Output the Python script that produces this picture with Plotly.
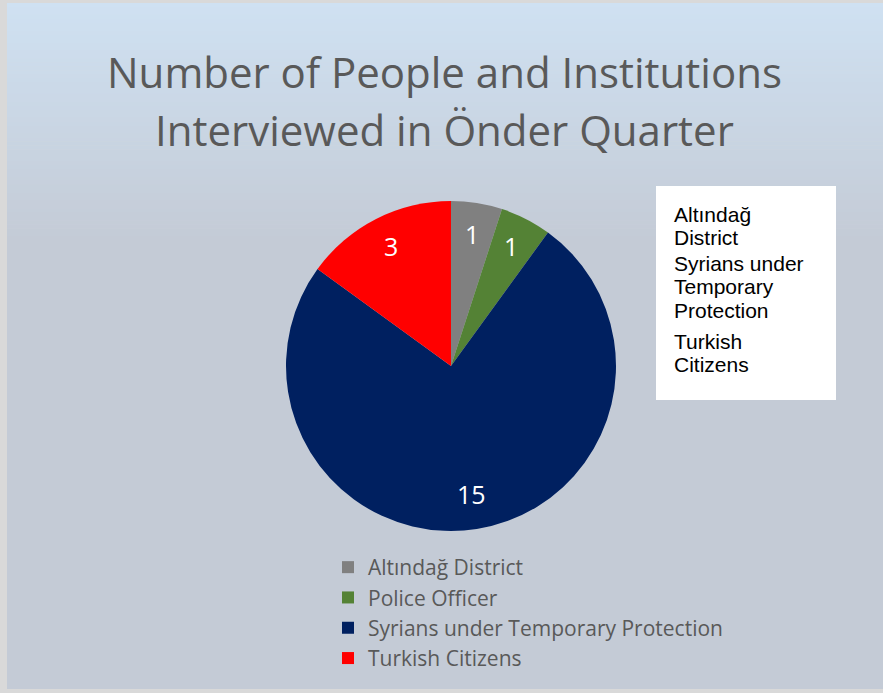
import math
import plotly.graph_objects as go

# ---- data ----
categories = ["Altındağ District", "Police Officer", "Syrians under Temporary Protection", "Turkish Citizens"]
counts = [1, 1, 15, 3]
slice_colors = ["#808080", "#548235", "#002060", "#FF0000"]
title_lines = ["Number of People and Institutions", "Interviewed in Önder Quarter"]
box_items = [["Altındağ", "District"], ["Syrians under", "Temporary", "Protection"], ["Turkish", "Citizens"]]

W, H = 883, 693

def py(px):
    return 1 - px / H

def px_x(px):
    return px / W

# pie geometry (pixels)
CX, CY, R = 451, 366, 165

fig = go.Figure()

fig.add_trace(go.Pie(
    labels=categories,
    values=counts,
    sort=False,
    direction="clockwise",
    rotation=0,
    marker=dict(colors=slice_colors, line=dict(width=0)),
    textinfo="none",
    domain=dict(x=[px_x(CX - R), px_x(CX + R)], y=[py(CY + R), py(CY - R)]),
    hoverinfo="label+value",
    showlegend=True,
))

shapes = []
top_c = (207, 225, 242)
bot_c = (196, 203, 214)
x0, x1 = 7, 883
y_top, y_grad_end, y_bot = 3, 240, 689
shapes.append(dict(type="rect", xref="paper", yref="paper",
                   x0=px_x(x0), x1=px_x(x1), y0=py(y_bot), y1=py(y_grad_end),
                   fillcolor="rgb(%d,%d,%d)" % bot_c, line=dict(width=0), layer="below"))
N = 60
for i in range(N):
    a = y_top + (y_grad_end - y_top) * i / N
    b = y_top + (y_grad_end - y_top) * (i + 1) / N + 0.6
    t = (i + 0.5) / N
    c = tuple(round(top_c[k] + (bot_c[k] - top_c[k]) * t) for k in range(3))
    shapes.append(dict(type="rect", xref="paper", yref="paper",
                       x0=px_x(x0), x1=px_x(x1), y0=py(min(b, y_grad_end)), y1=py(a),
                       fillcolor="rgb(%d,%d,%d)" % c, line=dict(width=0), layer="below"))
shapes.append(dict(type="rect", xref="paper", yref="paper",
                   x0=px_x(656), x1=px_x(836), y0=py(400), y1=py(186),
                   fillcolor="white", line=dict(width=0), layer="below"))

annotations = []
title_centers = [71, 129]
for line, cy in zip(title_lines, title_centers):
    annotations.append(dict(text=line, xref="paper", yref="paper",
                            x=px_x(444), y=py(cy), xanchor="center", yanchor="middle",
                            showarrow=False,
                            font=dict(family="Open Sans", size=42, color="#595959")))

# data labels placed along each slice's bisector (computed from the values)
total = sum(counts)
cum = 0
for v in counts:
    mid = (cum + v / 2) / total * 2 * math.pi
    cum += v
    lx = CX + 0.8 * R * math.sin(mid)
    ly = CY - 0.8 * R * math.cos(mid)
    annotations.append(dict(text=str(v), xref="paper", yref="paper",
                            x=px_x(lx), y=py(ly - 2), xanchor="center", yanchor="middle",
                            showarrow=False,
                            font=dict(family="Open Sans", size=25, color="white")))

box_baselines = [[221, 244], [270, 293, 317], [348, 371]]
for item, bls in zip(box_items, box_baselines):
    for line, bl in zip(item, bls):
        annotations.append(dict(text=line, xref="paper", yref="paper",
                                x=px_x(672), y=py(bl - 7), xanchor="left", yanchor="middle",
                                showarrow=False,
                                font=dict(family="Liberation Sans", size=21, color="black")))

fig.update_layout(
    width=W, height=H,
    margin=dict(l=0, r=0, t=0, b=0),
    paper_bgcolor="#d9d9d9",
    plot_bgcolor="rgba(0,0,0,0)",
    shapes=shapes,
    annotations=annotations,
    legend=dict(x=px_x(328), y=py(547), xanchor="left", yanchor="top",
                bgcolor="rgba(0,0,0,0)",
                font=dict(family="Open Sans", size=21, color="#595959")),
)

fig.write_html("out.html")
